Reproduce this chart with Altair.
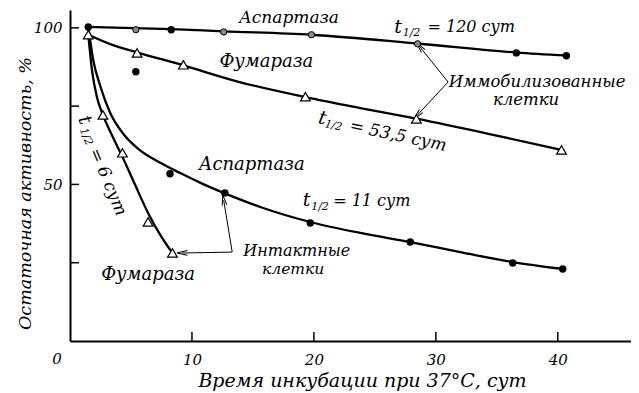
import altair as alt
import pandas as pd
import numpy as np

# ---------------- data ----------------
# Immobilised cells, aspartase (circles)
asp_imm_x = [1.5, 5.4, 8.3, 12.6, 19.8, 28.5, 36.6, 40.7]
asp_imm_y = [100.3, 99.4, 99.4, 98.7, 97.8, 94.9, 92.0, 91.1]
asp_imm_filled = [True, False, True, False, False, False, True, True]
# Immobilised cells, fumarase (triangles)
fum_imm_x = [1.5, 5.5, 9.3, 19.3, 28.4, 40.3]
fum_imm_y = [97.8, 92.0, 88.2, 78.0, 70.9, 61.0]
# Intact cells, aspartase (filled circles)
asp_int_x = [5.4, 8.2, 12.7, 19.7, 27.9, 36.3, 40.4]
asp_int_y = [86.0, 53.4, 47.3, 37.7, 31.6, 24.9, 23.0]
# Intact cells, fumarase (triangles)
fum_int_x = [2.7, 4.3, 6.4, 8.4]
fum_int_y = [72.2, 60.1, 38.0, 28.1]

# Fitted curves
c_asp_imm_x = [1.5, 8.3, 12.6, 19.8, 28.5, 36.6, 40.7]
c_asp_imm_y = [100.3, 99.6, 98.9, 97.8, 95.0, 92.1, 91.2]
c_fum_imm_x = [1.5, 3.3, 5.5, 9.3, 13.9, 19.3, 23.8, 28.4, 34.4, 40.3]
c_fum_imm_y = [97.8, 94.8, 92.2, 88.0, 82.7, 77.9, 74.4, 71.0, 66.1, 61.0]
c_asp_int_x = [1.5, 1.9, 2.5, 3.3, 4.3, 5.7, 7.4, 9.0, 10.7, 12.6, 15.6, 19.7, 23.8, 27.9, 32.0, 36.3, 40.4]
c_asp_int_y = [100.3, 89.8, 81.2, 72.8, 66.5, 61.0, 56.9, 53.7, 50.5, 47.3, 42.8, 38.0, 34.5, 31.6, 28.4, 25.2, 23.0]
c_fum_int_x = [1.5, 1.8, 2.2, 2.7, 3.5, 4.3, 5.3, 6.4, 7.4, 8.4]
c_fum_int_y = [97.8, 86.6, 78.0, 72.2, 65.2, 58.8, 50.2, 40.9, 33.9, 28.1]

# Tick values
x_ticks = [10, 20, 30, 40]
y_ticks = [25, 50, 75, 100]
y_labels = [50, 100]

# Annotation arrows: (from x, from y, tip x, tip y)
arr_x1 = [31.0, 31.0, 13.3, 13.3]
arr_y1 = [82.7, 82.7, 28.4, 28.4]
arr_x2 = [28.7, 28.5, 12.6, 9.2]
arr_y2 = [93.9, 72.2, 45.0, 28.1]

# Text annotations
txt_label = ["Аспартаза", "t", "1/2", "= 120 сут", "Фумараза",
             "Иммобилизованные", "клетки",
             "t", "1/2", "= 53,5 сут",
             "Аспартаза", "t", "1/2", "= 11 сут",
             "Интактные", "клетки", "Фумараза",
             "t", "1/2", "= 6 сут", "0"]
txt_x = [17.95, 26.9, 28.0, 32.9, 16.1,
         38.3, 37.4,
         20.7, 21.6, 26.9,
         14.9, 19.4, 20.5, 24.75,
         18.6, 18.3, 6.4,
         1.23, 1.3, 3.1, -1.07]
txt_y = [103.1, 100.3, 98.4, 100.3, 89.1,
         82.6, 77.0,
         71.2, 68.7, 65.5,
         56.2, 45.0, 42.8, 44.7,
         28.6, 23.0, 21.1,
         70.6, 65.2, 50.8, -5.75]
txt_angle = [0, 0, 0, 0, 0,
             0, 0,
             12, 12, 12,
             0, 0, 0, 0,
             0, 0, 0,
             67, 67, 67, 0]
txt_size = [17, 19, 11, 16, 18,
            16.5, 16.5,
            19, 11, 17,
            18, 19, 11, 16,
            16, 15.5, 18,
            19, 11, 17, 15]

# ---------------- chart ----------------
X_DOM = [0, 46]
Y_DOM = [0, 105.7]
W, H = 561, 331
FONT = "DejaVu Serif"

xs = alt.Scale(domain=X_DOM, nice=False, zero=False)
ys = alt.Scale(domain=Y_DOM, nice=False, zero=False)

curves = pd.concat([
    pd.DataFrame({"x": c_asp_imm_x, "y": c_asp_imm_y, "s": "a_imm"}),
    pd.DataFrame({"x": c_fum_imm_x, "y": c_fum_imm_y, "s": "f_imm"}),
    pd.DataFrame({"x": c_asp_int_x, "y": c_asp_int_y, "s": "a_int"}),
    pd.DataFrame({"x": c_fum_int_x, "y": c_fum_int_y, "s": "f_int"}),
], ignore_index=True)
curves["o"] = range(len(curves))

circ = pd.concat([
    pd.DataFrame({"x": asp_imm_x, "y": asp_imm_y, "filled": asp_imm_filled}),
    pd.DataFrame({"x": asp_int_x, "y": asp_int_y, "filled": [True] * len(asp_int_x)}),
], ignore_index=True)
tri = pd.concat([
    pd.DataFrame({"x": fum_imm_x, "y": fum_imm_y}),
    pd.DataFrame({"x": fum_int_x, "y": fum_int_y}),
], ignore_index=True)

arrows = pd.DataFrame({"x": arr_x1, "y": arr_y1, "x2": arr_x2, "y2": arr_y2})
sx = W / (X_DOM[1] - X_DOM[0])
sy = H / (Y_DOM[1] - Y_DOM[0])
dxs = (arrows["x2"] - arrows["x"]) * sx
dys = -(arrows["y2"] - arrows["y"]) * sy
arrows["ang"] = (np.degrees(np.arctan2(dxs, -dys)) + 360) % 360

texts = pd.DataFrame({"label": txt_label, "x": txt_x, "y": txt_y,
                      "angle": txt_angle, "size": txt_size})

xaxis = alt.Axis(values=x_ticks, ticks=False, grid=False, domainColor="black",
                 domainWidth=2, labelFont=FONT, labelFontStyle="italic",
                 labelFontSize=15, labelColor="black", labelPadding=11,
                 title="Время  инкубации  при 37°С, сут", titleFont=FONT,
                 titleFontStyle="italic", titleFontWeight="normal",
                 titleFontSize=19, titleColor="black", titleX=292, titleY=39,
                 titleBaseline="middle")
yaxis = alt.Axis(values=y_labels, ticks=False, grid=False, domainColor="black",
                 domainWidth=2, labelFont=FONT, labelFontStyle="italic",
                 labelFontSize=15, labelColor="black", labelPadding=8,
                 title="Остаточная активность, %", titleFont=FONT,
                 titleFontStyle="italic", titleFontWeight="normal",
                 titleFontSize=17.5, titleColor="black", titleX=-45, titleY=183,
                 titleBaseline="middle", titleAngle=270)

base_x = alt.X("x:Q", scale=xs, axis=xaxis)
base_y = alt.Y("y:Q", scale=ys, axis=yaxis)

lines = alt.Chart(curves).mark_line(color="black", strokeWidth=2.3,
                                    interpolate="monotone").encode(
    x=base_x, y=base_y, detail="s:N", order="o:Q")

circ_filled = alt.Chart(circ[circ["filled"]]).mark_point(
    shape="circle", filled=True, color="black", size=55, opacity=1).encode(
    x=alt.X("x:Q", scale=xs), y=alt.Y("y:Q", scale=ys))
circ_open = alt.Chart(circ[~circ["filled"]]).mark_point(
    shape="circle", filled=True, fill="#8a8a8a", stroke="black",
    strokeWidth=1, size=40, opacity=1).encode(
    x=alt.X("x:Q", scale=xs), y=alt.Y("y:Q", scale=ys))
triangles = alt.Chart(tri).mark_point(
    shape="triangle-up", filled=True, fill="white", stroke="black",
    strokeWidth=1.2, size=95, opacity=1).encode(
    x=alt.X("x:Q", scale=xs), y=alt.Y("y:Q", scale=ys))

tick_y = alt.Chart(pd.DataFrame({"y": y_ticks})).mark_rule(
    color="black", strokeWidth=1.5).encode(
    y=alt.Y("y:Q", scale=ys), x=alt.value(0), x2=alt.value(9))
tick_x = alt.Chart(pd.DataFrame({"x": x_ticks})).mark_rule(
    color="black", strokeWidth=1.5).encode(
    x=alt.X("x:Q", scale=xs), y=alt.value(H), y2=alt.value(H - 9))

arrow_lines = alt.Chart(arrows).mark_rule(color="black", strokeWidth=1).encode(
    x=alt.X("x:Q", scale=xs), y=alt.Y("y:Q", scale=ys),
    x2="x2:Q", y2="y2:Q")
arrow_heads = alt.Chart(arrows).mark_point(
    shape="M -0.45 1 L 0 -1 L 0.45 1", filled=False, stroke="black",
    strokeWidth=1, size=110, opacity=1).encode(
    x=alt.X("x2:Q", scale=xs), y=alt.Y("y2:Q", scale=ys),
    angle=alt.Angle("ang:Q", scale=None))

labels = alt.Chart(texts).mark_text(
    font=FONT, fontStyle="italic", color="black", align="center",
    baseline="middle").encode(
    x=alt.X("x:Q", scale=xs), y=alt.Y("y:Q", scale=ys),
    text="label:N", angle=alt.Angle("angle:Q", scale=None),
    size=alt.Size("size:Q", scale=None))

chart = alt.layer(
    lines, tick_y, tick_x, arrow_lines, arrow_heads,
    triangles, circ_open, circ_filled, labels
).properties(
    width=W, height=H, autosize="none",
    padding={"left": 62, "top": 2, "right": 0, "bottom": 52}
).configure_view(stroke=None)

chart.save("out.html", embed_options={"renderer": "svg", "actions": False})
